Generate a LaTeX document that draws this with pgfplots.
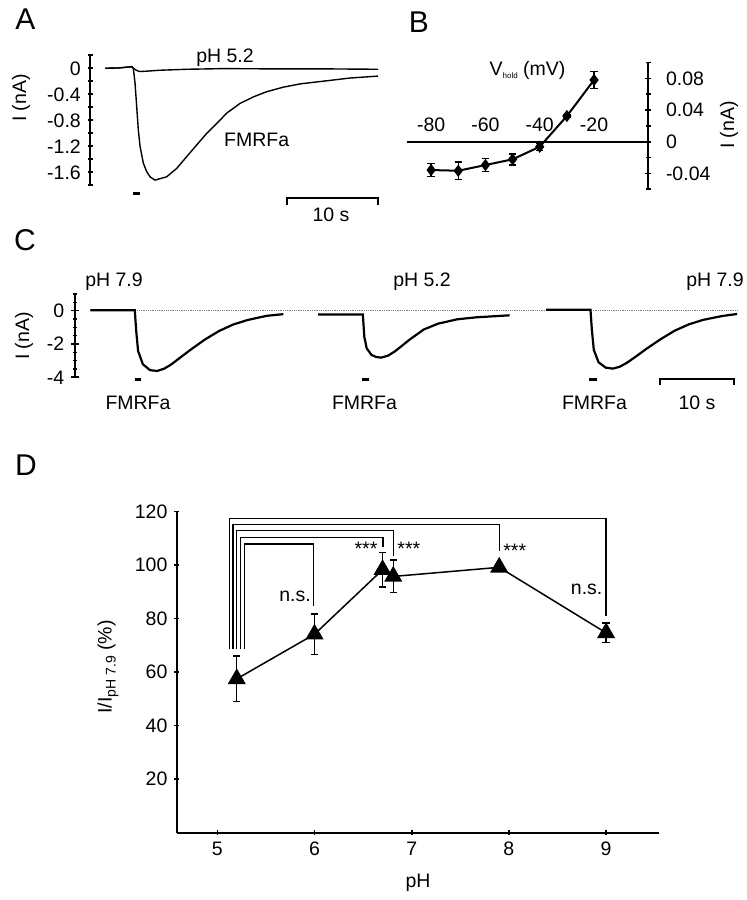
\documentclass[border=0pt]{standalone}
\usepackage{fontspec}
\setmainfont{Liberation Sans}
\usepackage{pgfplots}
\pgfplotsset{compat=1.18}
\begin{document}
\fontsize{19.5}{23}\selectfont
\begin{tikzpicture}
\path[use as bounding box] (0,0) rectangle (747pt,900pt);
\pgfplotsset{
  every axis/.append style={scale only axis, clip=false, anchor=south west,
    /pgf/number format/assume math mode=true,
    tick style={black, line width=1.6pt},
    axis line style={-, line width=2.2pt},
    x axis line style={-}, y axis line style={-},
    tick align=outside,
    every tick label/.append style={font=\fontsize{19.5}{23}\selectfont},
  },
}
% ---------------- Panel A ----------------
\begin{axis}[at={(90pt,714.7pt)}, width=292.6pt, height=130pt,
  xmin=-1.65, xmax=30.5, ymin=-1.8, ymax=0.2,
  axis x line=none, axis y line=left,
  x axis line style={-}, y axis line style={-},
  ytick={0,-0.4,-0.8,-1.2,-1.6}, yticklabels={0,-0.4,-0.8,-1.2,-1.6},
  minor ytick={0.2,-0.2,-0.6,-1.0,-1.4,-1.8},
  major tick length=5pt, minor tick length=5pt]
\addplot[black, line width=1.4pt] coordinates {
(0,0) (1.5,0.005) (2.6,0.02) (2.95,0.025) (3.11,0) (3.30,-0.23) (3.48,-0.59) (3.66,-0.95) (3.85,-1.20) (4.21,-1.46) (4.58,-1.59) (4.95,-1.67) (5.49,-1.72) (6.77,-1.67) (7.88,-1.54) (8.97,-1.36) (10.07,-1.18) (11.18,-1.00) (12.27,-0.85) (13.37,-0.69) (14.84,-0.54) (16.3,-0.44) (17.77,-0.36) (19.6,-0.29) (21.43,-0.24) (23.26,-0.21) (25.1,-0.18) (26.9,-0.15) (30,-0.12)};
\addplot[black, line width=1.4pt] coordinates {
(0,0) (1.5,0.005) (2.6,0.02) (2.95,0.025) (3.11,0) (3.5,-0.035) (3.85,-0.05) (4.5,-0.045) (6,-0.03) (9,-0.015) (13,-0.005) (20,-0.01) (25,-0.01) (30,-0.015)};
\draw[line width=3pt] (axis cs:3.1,-1.92) -- (axis cs:3.85,-1.92);
\draw[line width=2pt] (axis cs:20,-2.10) -- (axis cs:20,-1.995) -- (axis cs:30,-1.995) -- (axis cs:30,-2.10);
\end{axis}
% ---------------- Panel B ----------------
\begin{axis}[at={(406.7pt,710.7pt)}, width=241.6pt, height=126.8pt,
  xmin=-89, xmax=0, ymin=-0.06, ymax=0.10,
  axis x line=middle, axis y line=right,
  x axis line style={-}, y axis line style={-},
  hide obscured x ticks=false, hide obscured y ticks=false,
  xtick={-80,-60,-40,-20}, xticklabels={-80,-60,-40,-20},
  x tick style={draw=none},
  xticklabel style={anchor=base, yshift=13pt},
  ytick={-0.04,0,0.04,0.08}, yticklabels={-0.04,0,0.04,0.08},
  minor ytick={-0.06,-0.02,0.02,0.06,0.10},
  yticklabel style={anchor=west, xshift=8pt},
  major tick length=6pt, minor tick length=5pt]
\addplot[black, line width=2pt, mark=diamond*, mark size=4.5pt,
  error bars/.cd, y dir=both, y explicit,
  error bar style={line width=1.5pt},
  error mark options={rotate=90, mark size=3.7pt, line width=1.5pt}] coordinates {
(-80,-0.0357) +- (0,0.0084)
(-70,-0.0366) +- (0,0.011)
(-60,-0.0294) +- (0,0.0084)
(-50,-0.0222) +- (0,0.007)
(-40,-0.0063) +- (0,0.005)
(-30,0.0324) +- (0,0.002)
(-20,0.0779) +- (0,0.0105)};
\end{axis}
% ---------------- Panel C ----------------
\begin{axis}[at={(75pt,522.7pt)}, width=665pt, height=83.3pt,
  xmin=-2.1, xmax=88, ymin=-4, ymax=1,
  axis x line=none, axis y line=left,
  x axis line style={-}, y axis line style={-},
  ytick={0,-2,-4}, yticklabels={0,-2,-4},
  minor ytick={1,0.5,-0.5,-1,-1.5,-2.5,-3,-3.5},
  major tick length=8pt, minor tick length=5pt]
\addplot[gray, densely dotted, line width=0.8pt] coordinates {(0,0) (87.6,0)};
\addplot[black, line width=2.2pt] coordinates {
(0,0.03) (6.0,0.03) (6.19,-1.2) (6.45,-2.43) (7.10,-3.22) (8.06,-3.57) (9.03,-3.62) (10.0,-3.48) (10.97,-3.22) (12.26,-2.78) (13.55,-2.35) (15.48,-1.74) (17.42,-1.22) (19.35,-0.83) (21.29,-0.56) (23.87,-0.31) (26.13,-0.21)};
\addplot[black, line width=2.2pt] coordinates {
(30.84,-0.23) (36.90,-0.23) (37.10,-1.57) (37.42,-2.26) (38.07,-2.66) (38.71,-2.78) (39.36,-2.82) (40.32,-2.70) (41.29,-2.43) (43.23,-1.74) (45.16,-1.13) (47.10,-0.78) (49.68,-0.52) (52.26,-0.40) (56.78,-0.28)};
\addplot[black, line width=2.2pt] coordinates {
(61.74,0.05) (67.74,0.05) (67.93,-1.15) (68.19,-2.35) (68.84,-3.1) (69.80,-3.42) (70.77,-3.48) (71.74,-3.36) (72.71,-3.12) (74.00,-2.72) (75.29,-2.3) (77.22,-1.72) (79.16,-1.2) (81.09,-0.82) (83.03,-0.55) (85.61,-0.32) (87.61,-0.2)};
\draw[line width=3pt] (axis cs:6.0,-4.12) -- (axis cs:6.9,-4.12);
\draw[line width=3pt] (axis cs:36.8,-4.12) -- (axis cs:37.7,-4.12);
\draw[line width=3pt] (axis cs:67.6,-4.12) -- (axis cs:68.6,-4.12);
\draw[line width=2pt] (axis cs:77.2,-4.46) -- (axis cs:77.2,-4.12) -- (axis cs:87.15,-4.12) -- (axis cs:87.15,-4.46);
\end{axis}
% ---------------- Panel D ----------------
\begin{axis}[at={(176.6pt,67.3pt)}, width=482pt, height=321pt,
  xmin=4.581, xmax=9.54, ymin=0, ymax=120,
  axis x line=bottom, axis y line=left,
  x axis line style={-}, y axis line style={-},
  xtick={5,6,7,8,9}, xticklabels={5,6,7,8,9},
  ytick={20,40,60,80,100,120}, yticklabels={20,40,60,80,100,120},
  major tick length=5pt]
\addplot[black, line width=1.3pt] coordinates {(5.123,68.5) (5.123,117.5) (9.0,117.5) (9.0,81)};
\addplot[black, line width=1.3pt] coordinates {(5.161,68.5) (5.161,115.3) (7.9,115.3) (7.9,105.4)};
\addplot[black, line width=1.3pt] coordinates {(5.199,68.5) (5.199,112.9) (6.81,112.9) (6.81,103.5)};
\addplot[black, line width=1.3pt] coordinates {(5.236,68.5) (5.236,110.4) (6.705,110.4) (6.705,106.7)};
\addplot[black, line width=1.3pt] coordinates {(5.282,68.5) (5.282,107.9) (5.99,107.9) (5.99,84.6)};
\addplot[black, line width=1.5pt, mark=triangle*, mark size=9pt,
  error bars/.cd, y dir=both, y explicit,
  error bar style={line width=1.3pt},
  error mark options={rotate=90, mark size=3.7pt, line width=1.3pt}] coordinates {
(5.2,57.5) +- (0,8.5)
(6.0,74.2) +- (0,7.6)
(6.7,98.3) +- (0,6.4)
(6.81,95.8) +- (0,6.1)
(7.9,99.2) +- (0,1)
(9.0,74.7) +- (0,3.7)};
\node at (axis cs:5.80,88.4) {n.s.};
\node at (axis cs:8.80,90.9) {n.s.};
\node at (axis cs:6.53,106.2) {***};
\node at (axis cs:6.97,106.2) {***};
\node at (axis cs:8.06,105.2) {***};
\end{axis}
% ---------------- Texts ----------------
\begin{scope}[every node/.style={inner sep=0pt}]
\node[font=\fontsize{30}{32}\selectfont] at (25.5pt,881pt) {A};
\node[font=\fontsize{30}{32}\selectfont] at (419pt,878pt) {B};
\node[font=\fontsize{30}{32}\selectfont] at (25pt,660pt) {C};
\node[font=\fontsize{30}{32}\selectfont] at (26pt,435pt) {D};
\node at (225pt,842pt) {pH 5.2};
\node at (256.7pt,760pt) {FMRFa};
\node at (331pt,685pt) {10 s};
\node[rotate=90] at (21pt,802pt) {I (nA)};
\node at (527.5pt,830pt) {V\raisebox{-3pt}{\fontsize{8}{8}\selectfont hold} (mV)};
\node[rotate=90] at (729pt,775pt) {I (nA)};
\node at (114pt,618.3pt) {pH 7.9};
\node at (422pt,618.3pt) {pH 5.2};
\node at (715pt,618.3pt) {pH 7.9};
\node at (138pt,497.3pt) {FMRFa};
\node at (364.5pt,497.3pt) {FMRFa};
\node at (594.5pt,497.3pt) {FMRFa};
\node at (697pt,497.3pt) {10 s};
\node[rotate=90] at (24pt,564pt) {I (nA)};
\node[rotate=90] at (108pt,233pt) {I/I\raisebox{-4pt}{\fontsize{14}{14}\selectfont pH 7.9} (\%)};
\node at (418pt,17pt) {pH};
\end{scope}
\end{tikzpicture}
\end{document}
